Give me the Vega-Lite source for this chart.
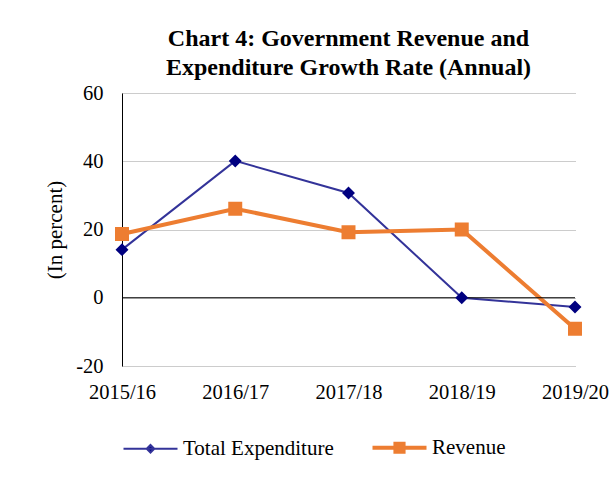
{
  "$schema": "https://vega.github.io/schema/vega-lite/v6.json",
  "width": 453,
  "height": 273,
  "autosize": {"type": "none"},
  "padding": {"left": 122, "top": 93, "right": 41, "bottom": 119},
  "background": "white",
  "config": {"view": {"stroke": null}},
  "title": {
    "text": ["Chart 4: Government Revenue and", "Expenditure Growth Rate (Annual)"],
    "font": "Liberation Serif",
    "fontSize": 24,
    "fontWeight": "bold",
    "color": "black",
    "lineHeight": 29,
    "anchor": "middle",
    "offset": 3
  },
  "data": {
    "values": [
      {"year": "2015/16", "series": "Total Expenditure", "value": 14.1},
      {"year": "2016/17", "series": "Total Expenditure", "value": 40.1},
      {"year": "2017/18", "series": "Total Expenditure", "value": 30.7},
      {"year": "2018/19", "series": "Total Expenditure", "value": 0.0},
      {"year": "2019/20", "series": "Total Expenditure", "value": -2.7},
      {"year": "2015/16", "series": "Revenue", "value": 18.7},
      {"year": "2016/17", "series": "Revenue", "value": 26.1},
      {"year": "2017/18", "series": "Revenue", "value": 19.2},
      {"year": "2018/19", "series": "Revenue", "value": 20.0},
      {"year": "2019/20", "series": "Revenue", "value": -9.1}
    ]
  },
  "layer": [
    {
      "transform": [{"filter": "datum.series === 'Total Expenditure'"}],
      "mark": {"type": "line", "strokeJoin": "miter", "color": "#333399", "strokeWidth": 2},
      "encoding": {
        "x": {
          "field": "year", "type": "ordinal",
          "scale": {"type": "point", "padding": 0},
          "axis": {"domain": false, "ticks": false, "grid": false, "labelAngle": 0, "labelPadding": 16, "labelFont": "Liberation Serif", "labelFontSize": 20.5, "labelColor": "black", "title": null}
        },
        "y": {
          "field": "value", "type": "quantitative",
          "scale": {"domain": [-20, 60], "nice": false, "zero": false},
          "axis": {"values": [-20, 0, 20, 40, 60], "labelExpr": "'' + datum.value", "domainColor": "black", "domainWidth": 1, "ticks": false, "labelPadding": 19, "labelFont": "Liberation Serif", "labelFontSize": 20.5, "labelColor": "black", "title": "(In percent)", "titleFont": "Liberation Serif", "titleFontSize": 21, "titleFontWeight": "normal", "titleColor": "black", "titlePadding": 10, "gridColor": "#999999", "gridDash": [1, 1], "gridWidth": 1}
        }
      }
    },
    {
      "transform": [{"filter": "datum.series === 'Revenue'"}],
      "mark": {"type": "line", "strokeJoin": "miter", "color": "#ED7D31", "strokeWidth": 4},
      "encoding": {
        "x": {"field": "year", "type": "ordinal"},
        "y": {"field": "value", "type": "quantitative"}
      }
    },
    {
      "data": {"values": [{}]},
      "mark": {"type": "rule", "color": "black", "strokeWidth": 1},
      "encoding": {"y": {"datum": 0, "type": "quantitative"}}
    },
    {
      "mark": {"type": "point", "filled": true, "opacity": 1, "strokeWidth": 0, "size": 8575},
      "encoding": {
        "x": {"field": "year", "type": "ordinal"},
        "y": {"field": "value", "type": "quantitative"},
        "fill": {
          "field": "series", "type": "nominal",
          "scale": {"domain": ["Total Expenditure", "Revenue"], "range": ["#000080", "#ED7D31"]},
          "legend": {"orient": "none", "legendX": 18, "legendY": 344, "direction": "horizontal", "title": null, "symbolSize": 2916, "labelFont": "Liberation Serif", "labelFontSize": 21, "labelColor": "black", "labelOffset": 22, "columnPadding": 30, "padding": 0, "symbolOpacity": 1,
            "encode": {"symbols": {"update": {"stroke": {"signal": "datum.value === 'Revenue' ? '#ED7D31' : '#333399'"}, "strokeWidth": {"signal": "datum.value === 'Revenue' ? 4 : 2"}, "size": {"value": 2916}, "opacity": {"value": 1}}}}}
        },
        "shape": {
          "field": "series", "type": "nominal",
          "scale": {"domain": ["Total Expenditure", "Revenue"], "range": ["M-1,0H1M0,-0.14L0.14,0L0,0.14L-0.14,0Z", "M-1,0H1M-0.151,-0.151H0.151V0.151H-0.151Z"]},
          "legend": {"orient": "none", "legendX": 18, "legendY": 344, "direction": "horizontal", "title": null, "symbolSize": 2916, "labelFont": "Liberation Serif", "labelFontSize": 21, "labelColor": "black", "labelOffset": 22, "columnPadding": 30, "padding": 0, "symbolOpacity": 1,
            "encode": {"symbols": {"update": {"stroke": {"signal": "datum.value === 'Revenue' ? '#ED7D31' : '#333399'"}, "strokeWidth": {"signal": "datum.value === 'Revenue' ? 4 : 2"}, "size": {"value": 2916}, "opacity": {"value": 1}}}}}
        }
      }
    }
  ]
}
